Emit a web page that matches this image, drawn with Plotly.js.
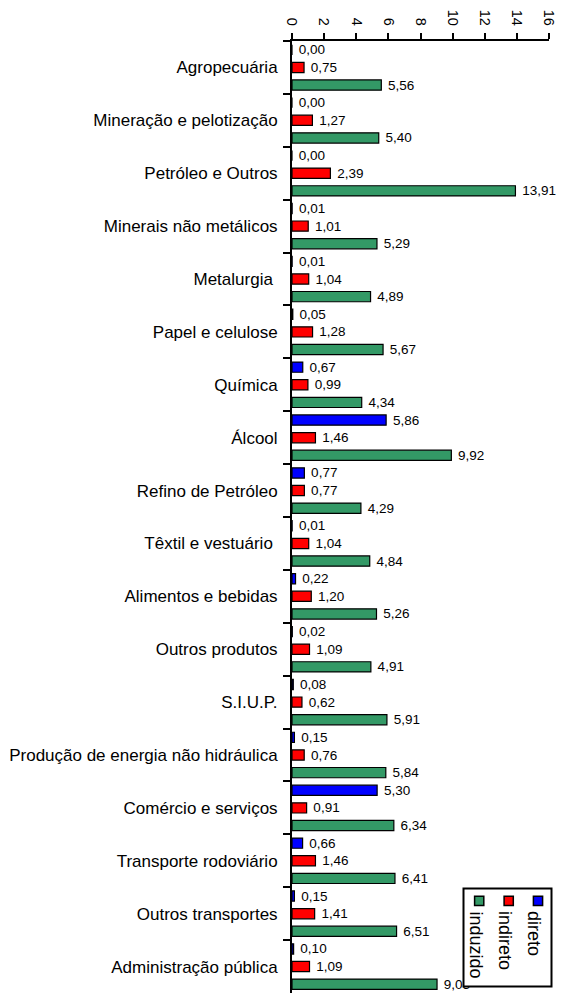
<!DOCTYPE html>
<html>
<head>
<meta charset="utf-8">
<script src="https://cdn.plot.ly/plotly-3.0.1.min.js"></script>
<style>html,body{margin:0;padding:0;background:#fff;}</style>
</head>
<body>
<div id="chart" style="width:564px;height:995px;"></div>
<script>
var categories = [
  "Agropecuária", "Mineração e pelotização", "Petróleo e Outros", "Minerais não metálicos",
  "Metalurgia ", "Papel e celulose", "Química", "Álcool", "Refino de Petróleo",
  "Têxtil e vestuário ", "Alimentos e bebidas", "Outros produtos", "S.I.U.P.",
  "Produção de energia não hidráulica", "Comércio e serviços", "Transporte rodoviário",
  "Outros transportes", "Administração pública"
];
var direto   = [0.00, 0.00, 0.00, 0.01, 0.01, 0.05, 0.67, 5.86, 0.77, 0.01, 0.22, 0.02, 0.08, 0.15, 5.30, 0.66, 0.15, 0.10];
var indireto = [0.75, 1.27, 2.39, 1.01, 1.04, 1.28, 0.99, 1.46, 0.77, 1.04, 1.20, 1.09, 0.62, 0.76, 0.91, 1.46, 1.41, 1.09];
var induzido = [5.56, 5.40, 13.91, 5.29, 4.89, 5.67, 4.34, 9.92, 4.29, 4.84, 5.26, 4.91, 5.91, 5.84, 6.34, 6.41, 6.51, 9.03];
var seriesNames = ["direto", "indireto", "induzido"];
var seriesColors = ["#0000FF", "#FF0000", "#339966"];
var xTicks = [0, 2, 4, 6, 8, 10, 12, 14, 16];

var FONT = "Liberation Sans, Arial, Helvetica, sans-serif";
var seriesData = [direto, indireto, induzido];

var traces = seriesData.map(function (vals, i) {
  return {
    type: "bar",
    orientation: "h",
    name: seriesNames[i],
    x: vals,
    y: categories,
    marker: { color: seriesColors[i], line: { color: "#000", width: 1.2 } },
    texttemplate: "\u00a0%{x:.2f}",
    textposition: "outside",
    constraintext: "none",
    cliponaxis: false,
    textfont: { family: FONT, size: 13.5, color: "#000" },
    hoverinfo: "skip"
  };
});

// plot-area geometry (pixels) used to place the hand-drawn rotated legend
var W = 564, H = 995, L = 292, R = 15, T = 41, B = 2;
var PW = W - L - R, PH = H - T - B;
function px(x) { return (x - L) / PW; }
function py(y) { return (H - B - y) / PH; }

var shapes = [{
  type: "rect", xref: "paper", yref: "paper", layer: "above",
  x0: px(463.5), x1: px(551.5), y0: py(986.5), y1: py(888.5),
  line: { color: "#000", width: 2 }, fillcolor: "#fff"
}];
var annotations = [];
// legend order left->right: induzido, indireto, direto
var legendOrder = [2, 1, 0];
var symX = [479.2, 508.7, 538.0];
var txtX = [476.0, 505.5, 534.5];
legendOrder.forEach(function (si, k) {
  shapes.push({
    type: "rect", xref: "paper", yref: "paper", layer: "above",
    x0: px(symX[k] - 4.6), x1: px(symX[k] + 4.6), y0: py(905.5), y1: py(896.3),
    line: { color: "#000", width: 1.5 }, fillcolor: seriesColors[si]
  });
  annotations.push({
    xref: "paper", yref: "paper", x: px(txtX[k]), y: py(909),
    xanchor: "center", yanchor: "top", showarrow: false,
    text: seriesNames[si], textangle: 90,
    font: { family: FONT, size: 18, color: "#000" }
  });
});

var layout = {
  width: W, height: H,
  margin: { l: L, r: R, t: T, b: B, pad: 0 },
  paper_bgcolor: "#fff", plot_bgcolor: "#fff",
  separators: ",.",
  barmode: "group",
  bargap: 0,
  bargroupgap: 0.42,
  showlegend: false,
  font: { family: FONT, color: "#000" },
  xaxis: {
    side: "top",
    range: [0, 16],
    tickvals: xTicks,
    ticktext: xTicks.map(String),
    tickangle: 90,
    ticks: "outside", ticklen: 6, tickwidth: 2, tickcolor: "#000",
    showline: true, linecolor: "#000", linewidth: 2,
    showgrid: false, zeroline: false,
    ticklabelstandoff: 2,
    tickfont: { family: FONT, size: 14.5, color: "#000" },
    fixedrange: true
  },
  yaxis: {
    type: "category",
    autorange: "reversed",
    tickson: "boundaries",
    ticks: "outside", ticklen: 7, tickwidth: 2, tickcolor: "#000",
    showline: true, linecolor: "#000", linewidth: 2,
    showgrid: false, zeroline: false,
    ticklabelstandoff: 9,
    tickfont: { family: FONT, size: 17, color: "#000" },
    fixedrange: true
  },
  shapes: shapes,
  annotations: annotations
};

Plotly.newPlot("chart", traces, layout, { displayModeBar: false, staticPlot: true });
</script>
</body>
</html>
